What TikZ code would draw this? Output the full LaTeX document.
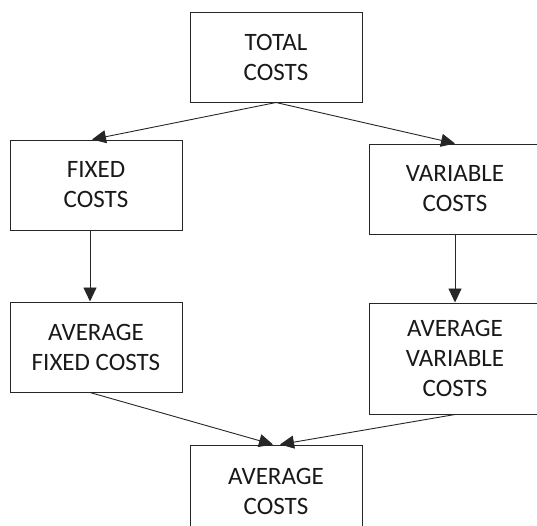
\documentclass[tikz,border=0pt]{standalone}
\usepackage{fontspec}
\setmainfont{Carlito}
\usetikzlibrary{arrows.meta}
\begin{document}
\begin{tikzpicture}[x=1pt,y=-1pt,
  box/.style={draw=black!85, line width=1pt, rectangle, align=center, inner sep=0pt,
    font=\fontsize{25}{30}\selectfont, text=black!90},
  conn/.style={draw=black!85, line width=0.9pt, -{Triangle[length=14pt,width=13pt]}}]
\useasboundingbox (0,0) rectangle (537,525);
\clip (0,0) rectangle (537,525);
\fill[white] (0,0) rectangle (537,525);
\node[box, minimum width=172pt, minimum height=90pt] (tc) at (276,57) {TOTAL\\COSTS};
\node[box, minimum width=172pt, minimum height=90pt] (fc) at (96,185) {FIXED\\COSTS};
\node[box, minimum width=172pt, minimum height=90pt] (vc) at (455,189) {VARIABLE\\COSTS};
\node[box, minimum width=172pt, minimum height=90pt] (afc) at (96,347) {AVERAGE\\FIXED COSTS};
\node[box, minimum width=172pt, minimum height=111pt] (avc) at (455,358.5) {AVERAGE\\VARIABLE\\COSTS};
\node[box, minimum width=172pt, minimum height=92pt] (ac) at (276,491) {AVERAGE\\COSTS};
\coordinate (acl) at ([xshift=-3pt]ac.north);
\coordinate (acr) at ([xshift=4pt]ac.north);
\coordinate (fct) at ([xshift=-4pt]fc.north);
\draw[conn] (tc.south) -- (fct);
\draw[conn] (tc.south) -- (vc.north);
\draw[conn] ([xshift=-6pt]fc.south) -- ([xshift=-6pt]afc.north);
\draw[conn] (vc.south) -- (avc.north);
\draw[conn] ([xshift=-6pt]afc.south) -- (acl);
\draw[conn] (avc.south) -- (acr);
\end{tikzpicture}
\end{document}
